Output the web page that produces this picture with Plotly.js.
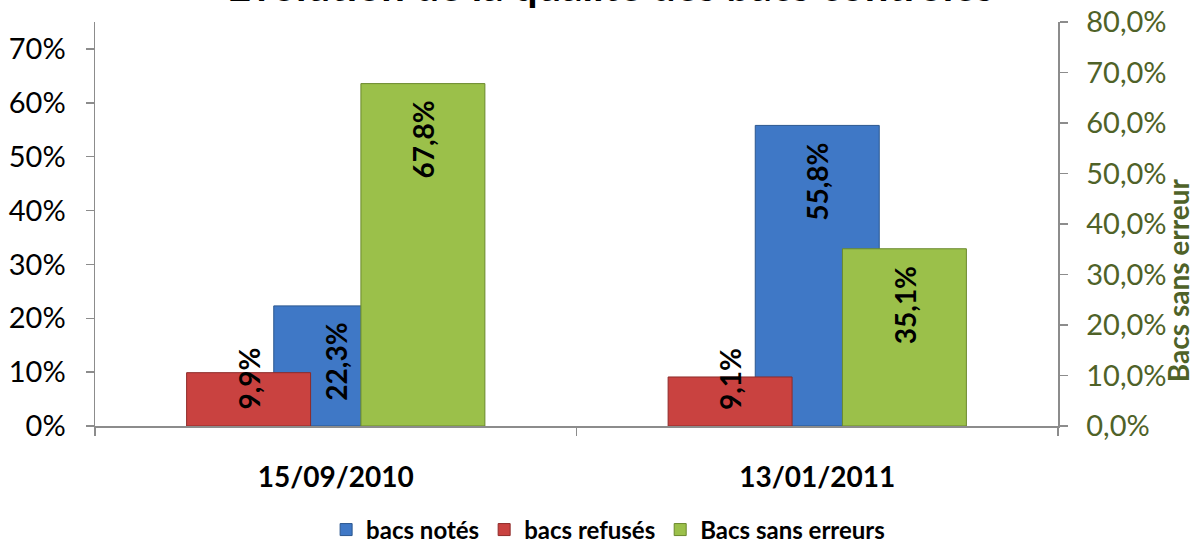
<!DOCTYPE html>
<html>
<head>
<meta charset="utf-8">
<script src="https://cdn.plot.ly/plotly-3.0.1.min.js"></script>
<style>html,body{margin:0;padding:0;background:#fff;}#chart{width:1193px;height:543px;}</style>
</head>
<body>
<div id="chart"></div>
<script>
// ---- data ----
const dates = ['15/09/2010', '13/01/2011'];
const bacsNotes = [0.223, 0.558];
const bacsRefuses = [0.099, 0.091];
const bacsSansErreurs = [0.678, 0.351];
const seriesNames = ['bacs notés', 'bacs refusés', 'Bacs sans erreurs'];
const chartTitle = 'Evolution de la qualité des bacs contrôlés';
const rightAxisTitle = 'Bacs sans erreur';

// ---- style ----
const FONT = 'Lato, "Open Sans", sans-serif';
const W = 0.2575;            // bar width (category units)
const SHIFT = 0.181;         // center shift between series
const AXIS_COL = '#8c8c8c';
const GREEN_TXT = '#4f6228';

function fmt(v) { return (v * 100).toFixed(1).replace('.', ',') + '%'; }

const traces = [
  {type: 'bar', name: seriesNames[0], x: dates, y: bacsNotes, yaxis: 'y',
   width: W, offset: -W / 2,
   marker: {color: '#3f78c6', line: {color: '#2b578f', width: 1}}, hoverinfo: 'none'},
  {type: 'bar', name: seriesNames[1], x: dates, y: bacsRefuses, yaxis: 'y',
   width: W, offset: -SHIFT - W / 2,
   marker: {color: '#c94240', line: {color: '#8e2b29', width: 1}}, hoverinfo: 'none'},
  {type: 'bar', name: seriesNames[2], x: dates, y: bacsSansErreurs, yaxis: 'y2',
   width: W, offset: SHIFT - W / 2,
   marker: {color: '#9bc04a', line: {color: '#6a882c', width: 1}}, hoverinfo: 'none'}
];

const labelFont = {family: FONT, size: 28, color: '#000', weight: 'bold'};
const annotations = [];
dates.forEach((d, i) => {
  annotations.push({x: i, y: bacsNotes[i], xref: 'x', yref: 'y', text: fmt(bacsNotes[i]),
    textangle: -90, showarrow: false, xanchor: 'center', yanchor: 'top', yshift: -15, font: labelFont});
  annotations.push({x: i - SHIFT, y: 0, xref: 'x', yref: 'y', text: fmt(bacsRefuses[i]),
    textangle: -90, showarrow: false, xanchor: 'center', yanchor: 'bottom', yshift: 14, font: labelFont});
  annotations.push({x: i + SHIFT, y: bacsSansErreurs[i], xref: 'x', yref: 'y2', text: fmt(bacsSansErreurs[i]),
    textangle: -90, showarrow: false, xanchor: 'center', yanchor: 'top', yshift: -15, font: labelFont});
});
annotations.push({x: 0.535, y: 1, xref: 'paper', yref: 'paper', text: chartTitle, showarrow: false,
  xanchor: 'center', yanchor: 'bottom', yshift: 10,
  font: {family: FONT, size: 42, color: '#000', weight: 'bold'}});
annotations.push({x: 1.1246, y: 0.361, xref: 'paper', yref: 'paper', text: rightAxisTitle, showarrow: false,
  textangle: -90, xanchor: 'center', yanchor: 'middle',
  font: {family: FONT, size: 28, color: GREEN_TXT, weight: 'bold'}});

const layout = {
  width: 1193, height: 543,
  margin: {l: 95, r: 135, t: 22, b: 117, pad: 0, autoexpand: false},
  paper_bgcolor: '#fff', plot_bgcolor: '#fff',
  separators: ', ',
  barmode: 'overlay',
  font: {family: FONT, color: '#000'},
  xaxis: {type: 'category', range: [-0.5, 1.5], showgrid: false, zeroline: false,
    showline: true, linecolor: AXIS_COL, linewidth: 1.5,
    ticks: 'outside', tickson: 'boundaries', ticklen: 8, tickcolor: AXIS_COL, tickwidth: 1.5,
    ticklabelstandoff: 26,
    tickfont: {family: FONT, size: 28, color: '#000', weight: 'bold'}},
  yaxis: {range: [0, 0.75], dtick: 0.1, tick0: 0, tickformat: '.0%', showgrid: false, zeroline: false,
    showline: true, linecolor: AXIS_COL, linewidth: 1.5,
    ticks: 'outside', ticklen: 8, tickcolor: AXIS_COL, tickwidth: 1.5,
    ticklabelstandoff: 14,
    tickfont: {family: FONT, size: 29, color: '#000'}, automargin: false},
  yaxis2: {overlaying: 'y', side: 'right', range: [0, 0.8], dtick: 0.1, tick0: 0, tickformat: '.1%',
    showgrid: false, zeroline: false,
    showline: true, linecolor: AXIS_COL, linewidth: 1.5,
    ticks: 'outside', ticklen: 8, tickcolor: AXIS_COL, tickwidth: 1.5,
    ticklabelstandoff: 13,
    tickfont: {family: FONT, size: 29, color: GREEN_TXT}, automargin: false},
  showlegend: true,
  legend: {orientation: 'h', x: 0.24, xanchor: 'left', yref: 'container', y: 0.024, yanchor: 'middle',
    font: {family: FONT, size: 24, color: '#000', weight: 'bold'}, itemwidth: 30, traceorder: 'normal'},
  annotations: annotations
};

Plotly.newPlot('chart', traces, layout, {displayModeBar: false, staticPlot: true});
</script>
</body>
</html>
